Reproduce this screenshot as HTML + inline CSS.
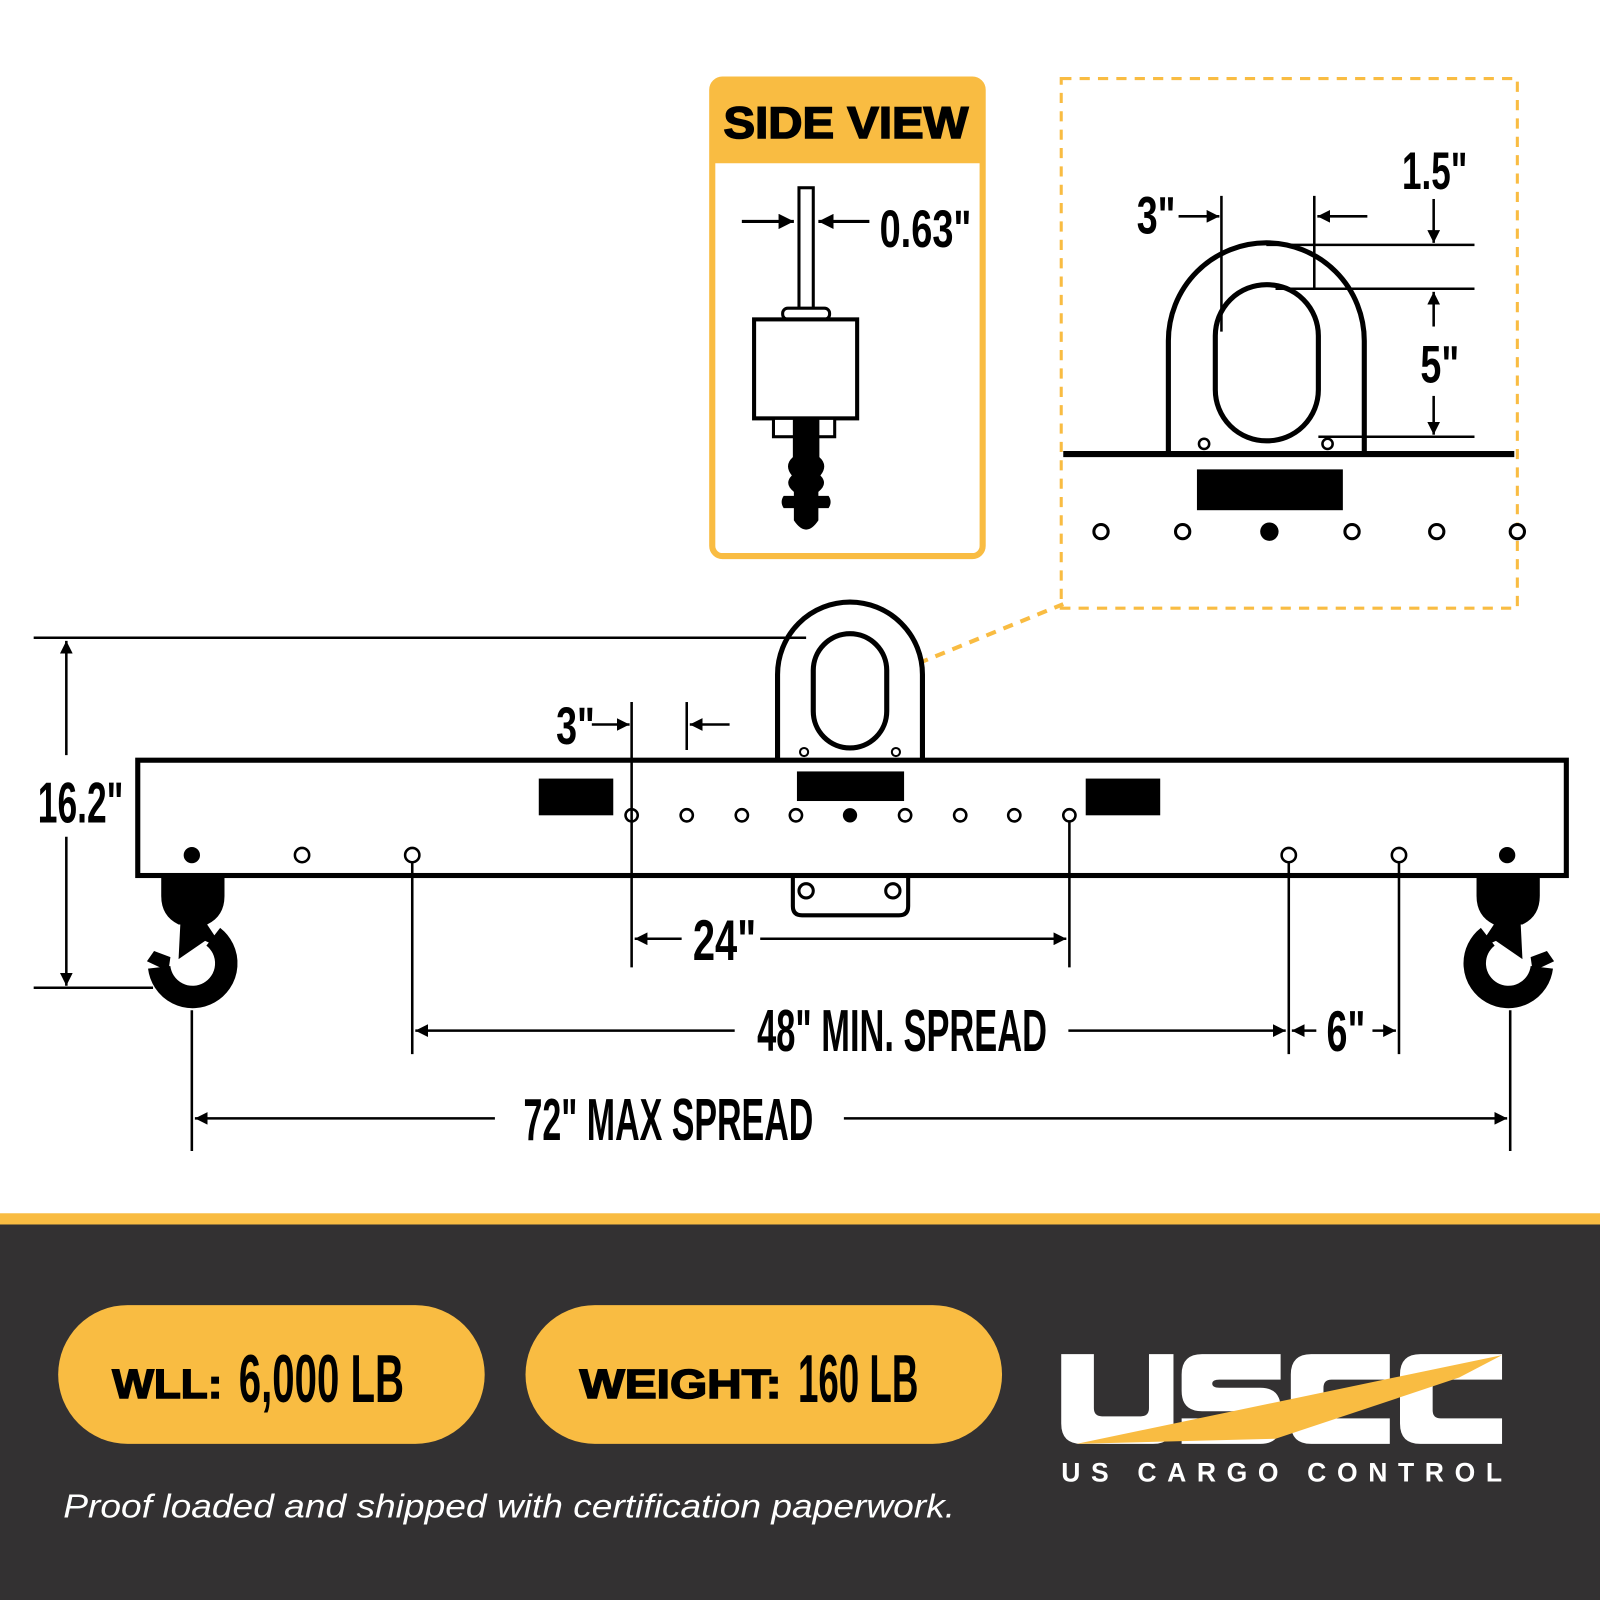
<!DOCTYPE html>
<html><head><meta charset="utf-8"><style>
html,body{margin:0;padding:0;background:#fff;}
svg{display:block;}
.c{font-family:"Liberation Sans Narrow","Liberation Sans",sans-serif;font-weight:bold;}
</style></head><body>
<svg width="1600" height="1600" viewBox="0 0 1568 1568" xmlns="http://www.w3.org/2000/svg">
<defs>
<marker id="a" viewBox="0 0 10 10" refX="10" refY="5" markerWidth="5" markerHeight="5" orient="auto-start-reverse"><path d="M0,0 L10,5 L0,10 z" fill="#000"/></marker>
<g id="hook">
<path d="M-31,0 L31,0 L31,18 Q31,38 14,46 L-14,46 Q-31,38 -31,18 Z" fill="#000"/>
<path d="M-12,40 L10,40 L30,70 L12,62 L-14,80 Z" fill="#000"/>
<path d="M20,58 A33,33 0 1 1 -33,88" fill="none" stroke="#000" stroke-width="22"/>
<path d="M-45,82 L-38,72 L-22,78 L-24,92 Z" fill="#000"/>
</g>
</defs>

<!-- side view box -->
<rect x="698" y="78" width="265" height="467" rx="10" fill="#fff" stroke="#F9BC42" stroke-width="6"/>
<path d="M698,88 Q698,78 708,78 L953,78 Q963,78 963,88 L963,160 L698,160 Z" fill="#F9BC42"/>
<text x="829" y="135" text-anchor="middle" font-family="Liberation Sans,sans-serif" font-weight="900" font-size="44" textLength="240" lengthAdjust="spacingAndGlyphs" stroke="#000" stroke-width="1.5">SIDE VIEW</text>
<rect x="783" y="184" width="14" height="126" fill="#fff" stroke="#000" stroke-width="3"/>
<line x1="727" y1="217" x2="778" y2="217" stroke="#000" stroke-width="3" marker-end="url(#a)"/>
<line x1="852" y1="217" x2="802" y2="217" stroke="#000" stroke-width="3" marker-end="url(#a)"/>
<text x="862" y="242" class="c" font-size="52" textLength="90" lengthAdjust="spacingAndGlyphs">0.63"</text>
<rect x="767" y="302" width="46" height="11" rx="5" fill="#fff" stroke="#000" stroke-width="3"/>
<rect x="739" y="313" width="101" height="97" fill="#fff" stroke="#000" stroke-width="4"/>
<rect x="758" y="410" width="60" height="18" fill="#fff" stroke="#000" stroke-width="3"/>
<path d="M777,410 L803,410 L803,448 Q812,456 804,466 Q812,474 802,482 L802,486 L812,486 Q816,492 812,498 L802,498 L802,510 Q790,528 778,510 L778,498 L768,498 Q764,492 768,486 L778,486 L778,482 Q768,474 776,466 Q768,456 777,448 Z" fill="#000"/>

<!-- detail box -->
<rect x="1040" y="77" width="447" height="519" fill="none" stroke="#F9BC42" stroke-width="3" stroke-dasharray="10,8"/>
<line x1="900" y1="650" x2="1042" y2="592" stroke="#F9BC42" stroke-width="4" stroke-dasharray="10,8"/>
<path d="M1145,445 L1145,334 A96,96 0 0 1 1337,334 L1337,445" fill="#fff" stroke="#000" stroke-width="5"/>
<rect x="1191" y="279" width="101" height="153" rx="50" fill="#fff" stroke="#000" stroke-width="5"/>
<line x1="1042" y1="445" x2="1484" y2="445" stroke="#000" stroke-width="6"/>
<circle cx="1180" cy="435" r="5" fill="#fff" stroke="#000" stroke-width="2.5"/>
<circle cx="1301" cy="435" r="5" fill="#fff" stroke="#000" stroke-width="2.5"/>
<rect x="1173" y="460" width="143" height="40" fill="#000"/>
<g fill="#fff" stroke="#000" stroke-width="3">
<circle cx="1079" cy="521" r="7"/><circle cx="1159" cy="521" r="7"/><circle cx="1325" cy="521" r="7"/><circle cx="1408" cy="521" r="7"/><circle cx="1487" cy="521" r="7"/>
</g>
<circle cx="1244" cy="521" r="9" fill="#000"/>
<g stroke="#000" stroke-width="2.5">
<line x1="1241" y1="240" x2="1445" y2="240"/><line x1="1250" y1="283" x2="1445" y2="283"/><line x1="1292" y1="428" x2="1445" y2="428"/>
<line x1="1197" y1="192" x2="1197" y2="325"/><line x1="1288" y1="192" x2="1288" y2="283"/>
</g>
<g stroke="#000" stroke-width="2.5" marker-end="url(#a)">
<line x1="1405" y1="195" x2="1405" y2="238"/>
<line x1="1405" y1="320" x2="1405" y2="286"/>
<line x1="1405" y1="388" x2="1405" y2="426"/>
<line x1="1155" y1="212" x2="1195" y2="212"/>
<line x1="1340" y1="212" x2="1291" y2="212"/>
</g>
<text x="1374" y="185" class="c" font-size="52" textLength="64" lengthAdjust="spacingAndGlyphs">1.5"</text>
<text x="1392" y="375" class="c" font-size="52" textLength="38" lengthAdjust="spacingAndGlyphs">5"</text>
<text x="1114" y="229" class="c" font-size="52" textLength="38" lengthAdjust="spacingAndGlyphs">3"</text>

<!-- main beam -->
<path d="M762,745 L762,661 A71,71 0 0 1 904,661 L904,745" fill="#fff" stroke="#000" stroke-width="5"/>
<rect x="797" y="621" width="72" height="112" rx="36" fill="#fff" stroke="#000" stroke-width="5"/>
<circle cx="788" cy="737" r="4" fill="#fff" stroke="#000" stroke-width="2"/>
<circle cx="878" cy="737" r="4" fill="#fff" stroke="#000" stroke-width="2"/>
<path d="M777,858 L777,888 Q777,897 786,897 L881,897 Q890,897 890,888 L890,858" fill="#fff" stroke="#000" stroke-width="4"/>
<circle cx="790" cy="873" r="7" fill="#fff" stroke="#000" stroke-width="3"/>
<circle cx="875" cy="873" r="7" fill="#fff" stroke="#000" stroke-width="3"/>
<rect x="135" y="745" width="1400" height="113" fill="#fff" stroke="#000" stroke-width="5"/>
<rect x="528" y="763" width="73" height="36" fill="#000"/>
<rect x="781" y="756" width="105" height="29" fill="#000"/>
<rect x="1064" y="763" width="73" height="36" fill="#000"/>
<g fill="#fff" stroke="#000" stroke-width="2.5">
<circle cx="619" cy="799" r="6"/><circle cx="673" cy="799" r="6"/><circle cx="727" cy="799" r="6"/><circle cx="780" cy="799" r="6"/>
<circle cx="887" cy="799" r="6"/><circle cx="941" cy="799" r="6"/><circle cx="994" cy="799" r="6"/><circle cx="1048" cy="799" r="6"/>
<circle cx="296" cy="838" r="7"/><circle cx="404" cy="838" r="7"/><circle cx="1263" cy="838" r="7"/><circle cx="1371" cy="838" r="7"/>
</g>
<circle cx="833" cy="799" r="7" fill="#000"/>
<circle cx="188" cy="838" r="8" fill="#000"/>
<circle cx="1477" cy="838" r="8" fill="#000"/>
<use href="#hook" x="189" y="860"/>
<use href="#hook" transform="translate(1478,860) scale(-1,1)"/>

<!-- dimensions -->
<g stroke="#000" stroke-width="2.5">
<line x1="33" y1="625" x2="790" y2="625"/>
<line x1="33" y1="968" x2="150" y2="968"/>
<line x1="619" y1="688" x2="619" y2="948"/>
<line x1="673" y1="688" x2="673" y2="735"/>
<line x1="1048" y1="806" x2="1048" y2="948"/>
<line x1="404" y1="845" x2="404" y2="1033"/>
<line x1="1263" y1="845" x2="1263" y2="1033"/>
<line x1="1371" y1="845" x2="1371" y2="1033"/>
<line x1="188" y1="990" x2="188" y2="1128"/>
<line x1="1480" y1="990" x2="1480" y2="1128"/>
</g>
<g stroke="#000" stroke-width="2.5" marker-end="url(#a)">
<line x1="65" y1="740" x2="65" y2="628"/>
<line x1="65" y1="820" x2="65" y2="966"/>
<line x1="580" y1="710" x2="617" y2="710"/>
<line x1="715" y1="710" x2="676" y2="710"/>
<line x1="668" y1="920" x2="622" y2="920"/>
<line x1="745" y1="920" x2="1045" y2="920"/>
<line x1="720" y1="1010" x2="407" y2="1010"/>
<line x1="1047" y1="1010" x2="1260" y2="1010"/>
<line x1="1290" y1="1010" x2="1266" y2="1010"/>
<line x1="1345" y1="1010" x2="1368" y2="1010"/>
<line x1="485" y1="1096" x2="191" y2="1096"/>
<line x1="827" y1="1096" x2="1477" y2="1096"/>
</g>
<text x="37" y="806" class="c" font-size="56" textLength="84" lengthAdjust="spacingAndGlyphs">16.2"</text>
<text x="545" y="729" class="c" font-size="52" textLength="38" lengthAdjust="spacingAndGlyphs">3"</text>
<text x="679" y="941" class="c" font-size="56" textLength="62" lengthAdjust="spacingAndGlyphs">24"</text>
<text x="742" y="1030" class="c" font-size="58" textLength="284" lengthAdjust="spacingAndGlyphs">48" MIN. SPREAD</text>
<text x="1300" y="1030" class="c" font-size="56" textLength="38" lengthAdjust="spacingAndGlyphs">6"</text>
<text x="513" y="1117" class="c" font-size="58" textLength="284" lengthAdjust="spacingAndGlyphs">72" MAX SPREAD</text>

<!-- bottom -->
<rect x="0" y="1189" width="1568" height="11" fill="#F9BC42"/>
<rect x="0" y="1200" width="1568" height="368" fill="#333132"/>
<rect x="57" y="1279" width="418" height="136" rx="68" fill="#F9BC42"/>
<rect x="515" y="1279" width="467" height="136" rx="68" fill="#F9BC42"/>
<text x="110" y="1370" font-family="Liberation Sans,sans-serif" font-weight="900" font-size="40" textLength="108" lengthAdjust="spacingAndGlyphs" stroke="#000" stroke-width="1.5">WLL:</text>
<text x="234" y="1374" class="c" font-size="66" textLength="162" lengthAdjust="spacingAndGlyphs">6,000 LB</text>
<text x="568" y="1370" font-family="Liberation Sans,sans-serif" font-weight="900" font-size="40" textLength="198" lengthAdjust="spacingAndGlyphs" stroke="#000" stroke-width="1.5">WEIGHT:</text>
<text x="782" y="1374" class="c" font-size="66" textLength="118" lengthAdjust="spacingAndGlyphs">160 LB</text>
<text x="62" y="1487" font-family="Liberation Sans,sans-serif" font-style="italic" font-size="33" fill="#fff" textLength="874" lengthAdjust="spacingAndGlyphs">Proof loaded and shipped with certification paperwork.</text>
<!-- logo -->
<g fill="#fff">
<path d="M1040,1327 L1072,1327 L1072,1380 Q1072,1388 1080,1388 L1118,1388 Q1126,1388 1126,1380 L1126,1327 L1150,1327 L1150,1395 Q1150,1415 1130,1415 L1060,1415 Q1040,1415 1040,1395 Z"/>
<path d="M1178,1327 L1255,1327 L1255,1352 L1195,1352 Q1188,1352 1188,1356 Q1188,1360 1195,1360 L1235,1360 Q1255,1360 1255,1380 L1255,1395 Q1255,1415 1235,1415 L1158,1415 L1158,1390 L1218,1390 Q1225,1390 1225,1386 Q1225,1383 1218,1383 L1178,1383 Q1158,1383 1158,1363 L1158,1347 Q1158,1327 1178,1327 Z"/>
<path d="M1285,1327 L1362,1327 L1362,1352 L1305,1352 Q1297,1352 1297,1360 L1297,1382 Q1297,1390 1305,1390 L1362,1390 L1362,1415 L1285,1415 Q1265,1415 1265,1395 L1265,1347 Q1265,1327 1285,1327 Z"/>
<path d="M1392,1327 L1472,1327 L1472,1352 L1412,1352 Q1404,1352 1404,1360 L1404,1382 Q1404,1390 1412,1390 L1472,1390 L1472,1415 L1392,1415 Q1372,1415 1372,1395 L1372,1347 Q1372,1327 1392,1327 Z"/>
</g>
<path d="M1055,1415 L1472,1328 L1430,1350 L1250,1410 Z" fill="#F9BC42"/>
<text x="1040" y="1452" font-family="Liberation Sans,sans-serif" font-weight="bold" font-size="26" fill="#fff" textLength="432" lengthAdjust="spacing">US CARGO CONTROL</text>
</svg>
</body></html>
